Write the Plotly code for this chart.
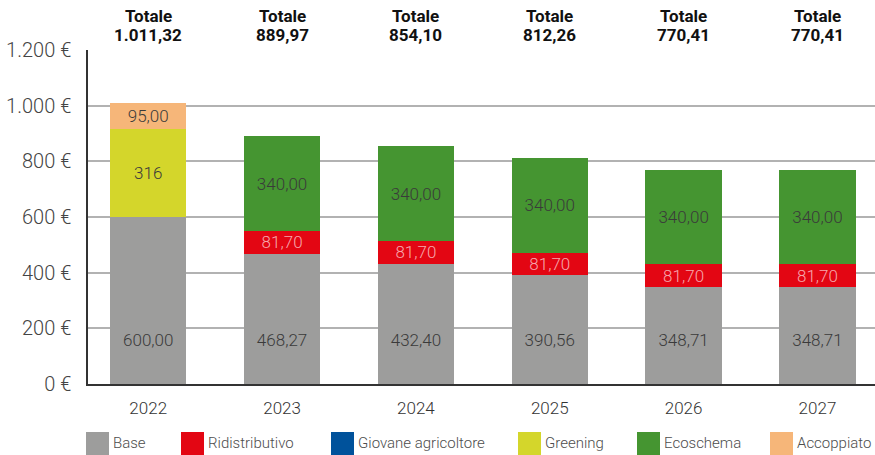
import plotly.graph_objects as go

# ---------------- data ----------------
years = ["2022", "2023", "2024", "2025", "2026", "2027"]
base = [600.00, 468.27, 432.40, 390.56, 348.71, 348.71]
ridistributivo = [None, 81.70, 81.70, 81.70, 81.70, 81.70]
giovane = [None, None, None, None, None, None]
greening = [316, None, None, None, None, None]
ecoschema = [None, 340.00, 340.00, 340.00, 340.00, 340.00]
accoppiato = [95.00, None, None, None, None, None]
totals = ["1.011,32", "889,97", "854,10", "812,26", "770,41", "770,41"]
greening_labels = ["316", "", "", "", "", ""]
y_tickvals = [0, 200, 400, 600, 800, 1000, 1200]
y_ticktext = ["0 €", "200 €", "400 €", "600 €", "800 €", "1.000 €", "1.200 €"]

series = [
    ("Base", base, "#9d9d9c"),
    ("Ridistributivo", ridistributivo, "#e30613"),
    ("Giovane agricoltore", giovane, "#00529b"),
    ("Greening", greening, "#d4d62b"),
    ("Ecoschema", ecoschema, "#459531"),
    ("Accoppiato", accoppiato, "#f6b679"),
]


def it_fmt(v):
    if v is None:
        return ""
    s = f"{v:,.2f}"
    return s.replace(",", "X").replace(".", ",").replace("X", ".")


FONT = "Roboto, sans-serif"
W, H = 875, 455
ML, MR, MT, MB = 88, 0, 50, 71

fig = go.Figure()
for name, vals, color in series:
    if name == "Base":
        text = None
    elif name == "Greening":
        text = greening_labels
    else:
        text = [it_fmt(v) for v in vals]
    txtcolor = "#f7a6ad" if name == "Ridistributivo" else "#3a3a3a"
    fig.add_trace(go.Bar(
        name=name, x=years, y=vals, marker=dict(color=color, line=dict(width=0)),
        width=0.57, text=text, textposition="inside", insidetextanchor="middle",
        constraintext="none",
        textfont=dict(family=FONT, size=17, color=txtcolor, weight=300),
        hoverinfo="x+y+name", showlegend=False,
    ))

# base labels sit at a common height in the reference
BASE_LABEL_Y = 152
fig.add_trace(go.Scatter(
    x=years, y=[BASE_LABEL_Y] * len(years), mode="text",
    text=[it_fmt(v) for v in base],
    textfont=dict(family=FONT, size=17, color="#3a3a3a", weight=300),
    showlegend=False, hoverinfo="skip",
))

# totals above the plot
for i, tot in enumerate(totals):
    fig.add_annotation(x=i, xref="x", y=1, yref="paper", yanchor="middle",
                       yshift=34, text="<b>Totale</b>", showarrow=False,
                       font=dict(family=FONT, size=17, color="#111111"))
    fig.add_annotation(x=i, xref="x", y=1, yref="paper", yanchor="middle",
                       yshift=15, text=f"<b>{tot}</b>", showarrow=False,
                       font=dict(family=FONT, size=17, color="#111111"))

# manual legend (large square swatches)
plot_w = W - ML - MR
plot_h = H - MT - MB


def px_x(px):
    return (px - ML) / plot_w


def px_y(py):
    return (H - MB - py) / plot_h


legend_x = [86, 181, 331, 518, 637, 770]
for (name, _, color), lx in zip(series, legend_x):
    fig.add_shape(type="rect", xref="paper", yref="paper",
                  x0=px_x(lx), x1=px_x(lx + 23), y0=px_y(456), y1=px_y(432),
                  fillcolor=color, line=dict(width=0))
    fig.add_annotation(xref="paper", yref="paper", x=px_x(lx + 25), y=px_y(443),
                       xanchor="left", yanchor="middle", text=name, showarrow=False,
                       font=dict(family=FONT, size=15, color="#4d4d4d", weight=300))

fig.update_layout(
    barmode="stack",
    width=W, height=H,
    margin=dict(l=ML, r=MR, t=MT, b=MB),
    paper_bgcolor="white", plot_bgcolor="white",
    showlegend=False,
    xaxis=dict(type="category", range=[-0.45, 5.43], showgrid=False,
               showline=True, linecolor="#333333", linewidth=1.5,
               ticks="", tickfont=dict(family=FONT, size=17, color="#333333", weight=300),
               ticklabelstandoff=8),
    yaxis=dict(range=[0, 1200], tickvals=y_tickvals, ticktext=y_ticktext,
               showgrid=True, gridcolor="#b2b2b2", gridwidth=1.5,
               showline=True, linecolor="#333333", linewidth=1.5,
               zeroline=False, ticks="",
               tickfont=dict(family=FONT, size=20, color="#444444", weight=300),
               ticklabelstandoff=11),
)

fig.write_html("out.html", config={"displayModeBar": False},
               post_script="document.body.style.margin='0';")
